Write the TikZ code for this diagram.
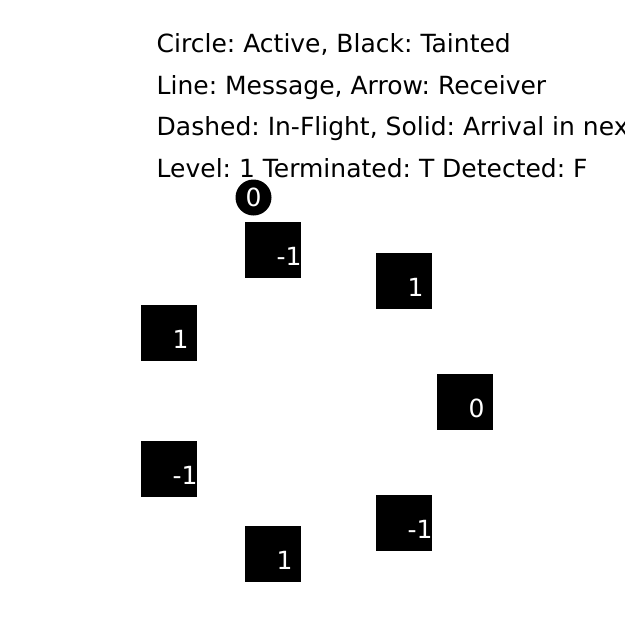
\documentclass[tikz,border=0pt]{standalone}
\usepackage{fontspec}
\setmainfont{DejaVu Sans}
\usetikzlibrary{calc}
\frenchspacing

\tikzset{
  txt/.style={font=\fontsize{25}{30}\selectfont, inner sep=0pt},
  proc/.style={fill=black, minimum size=56pt, inner sep=0pt},
  num/.style={txt, text=white, anchor=base west},
  tok/.style={circle, fill=black, minimum size=36pt, inner sep=0pt, txt, text=white}
}

\begin{document}
\begin{tikzpicture}[x=1pt, y=-1pt]
\useasboundingbox (0, 0) rectangle (625, 625);
\clip (0, 0) rectangle (625, 625);

\node[txt, anchor=base west] (legA) at (156.5,  52.5) {Circle: Active, Black: Tainted};
\node[txt, anchor=base west] (legB) at (156.5,  94.0) {Line: Message, Arrow: Receiver};
\node[txt, anchor=base west] (legC) at (156.5, 135.5) {Dashed: In-Flight, Solid: Arrival in next};
\node[txt, anchor=base west] (legD) at (156.5, 177.0) {Level: 1 Terminated: T Detected: F};

\node[proc] (p0) at (273, 250) {};
\node[proc] (p1) at (404, 281) {};
\node[proc] (p2) at (465, 402) {};
\node[proc] (p3) at (404, 523) {};
\node[proc] (p4) at (273, 554) {};
\node[proc] (p5) at (169, 469) {};
\node[proc] (p6) at (169, 333) {};

\node[num] (n0) at ($(p0.south west) + (31.5, -13)$) {-1};
\node[num] (n1) at ($(p1.south west) + (31.5, -13)$) {1};
\node[num] (n2) at ($(p2.south west) + (31.5, -13)$) {0};
\node[num] (n3) at ($(p3.south west) + (31.5, -13)$) {-1};
\node[num] (n4) at ($(p4.south west) + (31.5, -13)$) {1};
\node[num] (n5) at ($(p5.south west) + (31.5, -13)$) {-1};
\node[num] (n6) at ($(p6.south west) + (31.5, -13)$) {1};

\node[tok] (t0) at (253.5, 197.5) {0};

\end{tikzpicture}
\end{document}
